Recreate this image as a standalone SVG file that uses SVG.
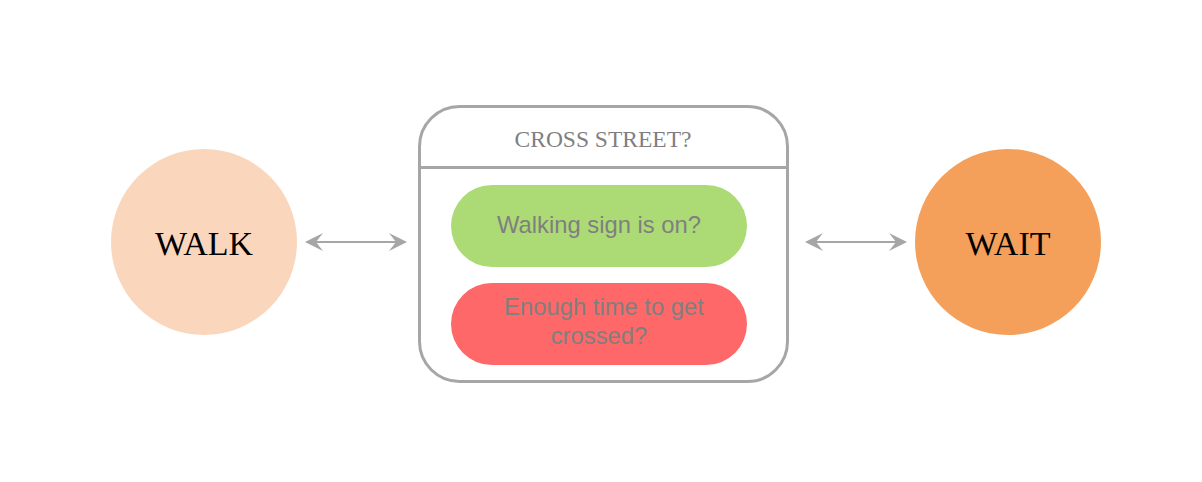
<svg xmlns="http://www.w3.org/2000/svg" width="1202" height="482" viewBox="0 0 1202 482">
<style>
.conn{stroke:#a6a6a6;stroke-width:2;fill:none}
.head{fill:#a6a6a6}
.serif{font-family:"Liberation Serif","Times New Roman",serif}
.sans{font-family:"Liberation Sans",Arial,sans-serif}
.pilltxt{font-size:23.8px;fill:#7f7f7f;text-anchor:middle}
</style>
<rect width="1202" height="482" fill="#ffffff"/>
<g id="walk">
<circle cx="204" cy="242" r="93" fill="#fad7bc"/>
<text x="204" y="255" class="serif" font-size="34" text-anchor="middle" fill="#000">WALK</text>
</g>
<g id="wait">
<circle cx="1008" cy="242" r="93" fill="#f4a05a"/>
<text x="1008" y="255" class="serif" font-size="34" text-anchor="middle" fill="#000">WAIT</text>
</g>
<g id="cross-street">
<rect x="419.5" y="106.5" width="368" height="275" rx="40" fill="#fff" stroke="#a6a6a6" stroke-width="3"/>
<line x1="419.5" y1="167.5" x2="787.5" y2="167.5" stroke="#a6a6a6" stroke-width="3"/>
<text x="603" y="147" class="serif" font-size="23.5" text-anchor="middle" fill="#7f7f7f">CROSS STREET?</text>
</g>
<g id="walking-sign">
<rect x="451" y="185" width="296" height="82" rx="41" fill="#acdb75"/>
<text x="599" y="233" class="sans pilltxt">Walking sign is on?</text>
</g>
<g id="enough-time">
<rect x="451" y="283" width="296" height="82" rx="41" fill="#fe6868"/>
<text x="604" y="315" class="sans pilltxt">Enough time to get</text>
<text x="599" y="344" class="sans pilltxt">crossed?</text>
</g>
<g id="connectors">
<line x1="314" y1="242" x2="398" y2="242" class="conn"/>
<path d="M305,242 L323,233 L316,242 L323,251 Z" class="head"/>
<path d="M407,242 L389,233 L396,242 L389,251 Z" class="head"/>
<line x1="814" y1="242" x2="898" y2="242" class="conn"/>
<path d="M805,242 L823,233 L816,242 L823,251 Z" class="head"/>
<path d="M907,242 L889,233 L896,242 L889,251 Z" class="head"/>
</g>
</svg>
